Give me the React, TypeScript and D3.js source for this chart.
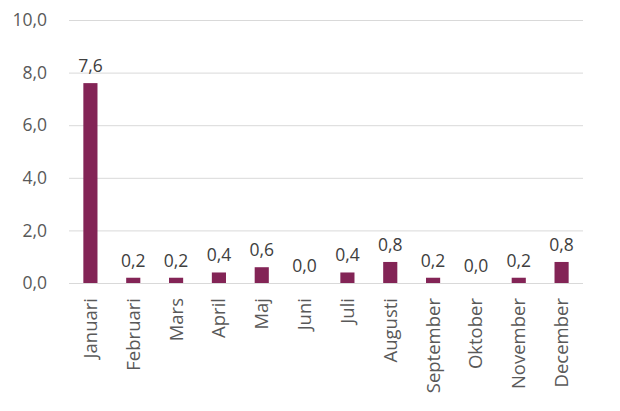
import React from "react";
import * as d3 from "d3";

const months = ["Januari","Februari","Mars","April","Maj","Juni","Juli","Augusti","September","Oktober","November","December"];
const values = [7.6,0.2,0.2,0.4,0.6,0.0,0.4,0.8,0.2,0.0,0.2,0.8];
const yTicks = [0,2,4,6,8,10];

const W = 620, H = 411;
const left = 69, right = 583, top = 20, bottom = 283;
const font = "'Segoe UI', 'Open Sans', 'Noto Sans', sans-serif";
const fmt = (v: number) => v.toFixed(1).replace(".", ",");

export default function App() {
  const x = d3.scaleBand<string>().domain(months).range([left, right]).paddingInner(0.67).paddingOuter(0.335);
  const y = d3.scaleLinear().domain([0, 10]).range([bottom, top]);
  return (
    <svg width={W} height={H} style={{ position: "absolute", left: 0, top: 0 }}>
      <rect width={W} height={H} fill="#fff" />
      {yTicks.map(t => (
        <g key={t}>
          <line x1={left} x2={right} y1={y(t) + 0.5} y2={y(t) + 0.5} stroke="#d9d9d9" strokeWidth={1} />
          <text x={47} y={y(t)} dy="0.35em" textAnchor="end" fontFamily={font} fontSize={17.5} fill="#595959">{fmt(t)}</text>
        </g>
      ))}
      {months.map((m, i) => {
        const cx = x(m)! + x.bandwidth() / 2;
        const v = values[i];
        return (
          <g key={m}>
            <rect x={x(m)} y={y(v)} width={x.bandwidth()} height={bottom - y(v)} fill="#832456" />
            <text x={cx} y={y(v) - 11} textAnchor="middle" fontFamily={font} fontSize={17.5} fill="#404040">{fmt(v)}</text>
            <text transform={`translate(${cx},${bottom + 15}) rotate(-90)`} dy="0.35em" textAnchor="end" fontFamily={font} fontSize={18.5} fill="#595959">{m}</text>
          </g>
        );
      })}
    </svg>
  );
}
